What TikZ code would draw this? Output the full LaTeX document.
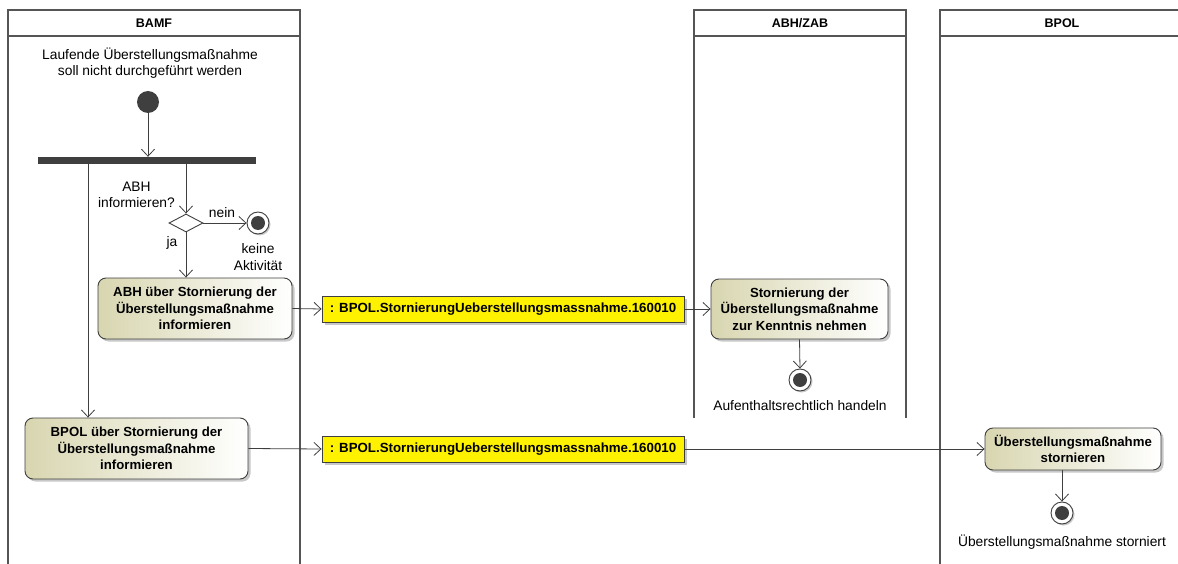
\documentclass[tikz,border=0pt]{standalone}
\usepackage{fontspec}
\setmainfont{Liberation Sans}
\usetikzlibrary{shapes.geometric,arrows.meta,shadows}
\definecolor{lanec}{HTML}{555555}
\definecolor{actc}{HTML}{D8D6B0}
\definecolor{dark}{HTML}{3F3F3F}
\begin{document}
\begin{tikzpicture}[x=1pt,y=-1pt,
  lane/.style={draw=lanec,line width=1.4pt},
  hdr/.style={font=\fontsize{12.5}{14}\selectfont\bfseries},
  txt/.style={font=\fontsize{13.8}{16.5}\selectfont,align=center,inner sep=0pt},
  act/.style={draw=dark,line width=0.9pt,rounded corners=8pt,left color=actc,right color=white,
    align=center,font=\fontsize{13.2}{16.5}\selectfont\bfseries,inner sep=0pt,
    drop shadow={shadow xshift=2.5pt,shadow yshift=-2.5pt,fill=gray!60,opacity=0.7}},
  obj/.style={draw=dark,line width=0.9pt,fill=yellow,font=\fontsize{13.3}{15}\selectfont\bfseries,
    inner sep=0pt,minimum width=362pt,minimum height=26pt,
    drop shadow={shadow xshift=2.5pt,shadow yshift=-2.5pt,fill=gray!60,opacity=0.7}},
  startn/.style={circle,fill=dark,minimum size=22pt,inner sep=0pt},
  finaln/.style={circle,draw=dark,line width=0.9pt,fill=white,minimum size=22pt,inner sep=0pt,
    drop shadow={shadow xshift=1.5pt,shadow yshift=-1.5pt,fill=gray!60,opacity=0.7}},
  bar/.style={rectangle,fill=dark,minimum width=218pt,minimum height=7pt,inner sep=0pt},
  dec/.style={diamond,draw=dark,line width=0.9pt,fill=white,minimum width=34pt,minimum height=18pt,inner sep=0pt},
  arr/.style={draw=dark,line width=0.8pt,-{Straight Barb[length=7pt,width=13pt,line width=0.8pt]}}
]
\clip (0,0) rectangle (1178,564);
\fill[white] (0,0) rectangle (1178,564);

% lanes
\draw[lane] (8,570) -- (8,10) -- (300,10) -- (300,570);
\draw[lane] (8,36) -- (300,36);
\node[hdr] (hBAMF) at (154,23) {BAMF};
\draw[lane] (694,418) -- (694,10) -- (906,10) -- (906,418);
\draw[lane] (694,36) -- (906,36);
\node[hdr] (hABH) at (800,23) {ABH/ZAB};
\draw[lane] (940,570) -- (940,10) -- (1190,10);
\draw[lane] (940,36) -- (1190,36);
\node[hdr] (hBPOL) at (1062,23) {BPOL};

% BAMF
\node[txt] (tstart) at (150,63) {Laufende Überstellungsmaßnahme\\soll nicht durchgeführt werden};
\node[startn] (start) at (148,102) {};
\node[bar] (fork) at (147,160.5) {};
\coordinate (forkA) at (88,164);
\coordinate (forkB) at (186,164);
\draw[arr] (start) -- (start |- fork.north);
\node[txt,anchor=east] (tq) at (175,195) {ABH\\informieren?};
\node[dec] (dec) at (186,223) {};
\draw[arr] (forkB) -- (dec.north);
\node[finaln] (f0) at (258,223) {};
\fill[dark] (f0.center) circle (7);
\draw[arr] (dec.east) -- (f0.west);
\node[txt] (lnein) at (222,213) {nein};
\node[txt] (lja) at (172,243) {ja};
\node[txt] (tkeine) at (258,257) {keine\\Aktivität};

\node[act,minimum width=194pt,minimum height=61pt] (abh) at (195,308.5)
  {ABH über Stornierung der\\Überstellungsmaßnahme\\informieren};
\draw[arr] (dec.south) -- (dec.south |- abh.north);

\node[act,minimum width=223pt,minimum height=61pt] (bpol) at (136.5,448.5)
  {BPOL über Stornierung der\\Überstellungsmaßnahme\\informieren};
\draw[arr] (forkA) -- (forkA |- bpol.north);

% objects
\node[obj] (o1) at (503,309) {: BPOL.StornierungUeberstellungsmassnahme.160010};
\node[obj] (o2) at (503,449) {: BPOL.StornierungUeberstellungsmassnahme.160010};

% ABH/ZAB
\node[act,minimum width=177pt,minimum height=60pt] (kennt) at (799.5,309)
  {Stornierung der\\Überstellungsmaßnahme\\zur Kenntnis nehmen};
\node[finaln] (f1) at (800,380) {};
\fill[dark] (f1.center) circle (7);
\node[txt] (tauf) at (800,406) {Aufenthaltsrechtlich handeln};
\draw[arr] (kennt.south) -- (f1.north);

% BPOL
\node[act,minimum width=176pt,minimum height=42pt] (storn) at (1073,449)
  {Überstellungsmaßnahme\\stornieren};
\node[finaln] (f2) at (1062,513) {};
\fill[dark] (f2.center) circle (7);
\node[txt] (tstorn) at (1062,542) {Überstellungsmaßnahme storniert};
\draw[arr] (storn.south -| f2.north) -- (f2.north);

% flows
\draw[arr] (abh.east) -- (o1.west);
\draw[arr] (o1.east) -- (kennt.west);
\draw[arr] (bpol.east) -- (o2.west);
\draw[arr] (o2.east) -- (storn.west);
\end{tikzpicture}
\end{document}
